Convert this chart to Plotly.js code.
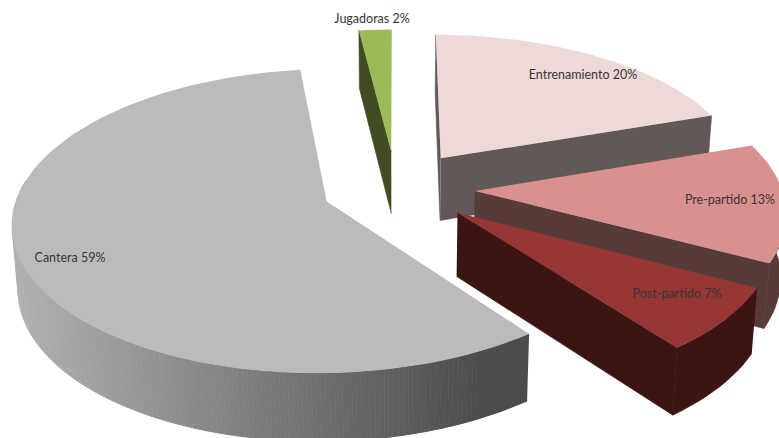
<!DOCTYPE html>
<html>
<head>
<meta charset="utf-8">
<script src="https://cdn.plot.ly/plotly-3.0.1.min.js"></script>
<style>html,body{margin:0;padding:0;background:#fff;}</style>
</head>
<body>
<div id="chart" style="width:779px;height:438px;"></div>
<script>
// Reparto por categoría, en sentido horario desde las 12
const categories = ["Entrenamiento", "Pre-partido", "Post-partido", "Cantera", "Jugadoras"];
const percents = [20, 13, 7, 59, 2];

// Colores de cada porción: cara superior y pared
const topColors = ["#eed9d9", "#d99190", "#953534", "#bbbbbb", "#9bbb59"];
const wallColors = ["#625856", "#563b39", "#3c1513", "#7a7a7a", "#414c23"];

// Posición de cada etiqueta en el lienzo
const labelX = [583, 730, 677, 70, 372];
const labelY = [76, 201, 295, 259, 20];

// Cámara del pastel inclinado
const cam = {vx: 396, vy: 188, A: 315, B: 150, k: 0.13, depth: 63, kd: 0.07, lean: 0.015};
const explode = [0.25, 0.25, 0.25, 0.235, 0.25];
const radius = 0.975;

// Caras visibles de cada porción: radial inicial, radial final y tramo de pared exterior en grados
const faces = [
  {start: true,  end: true,  arc: null},
  {start: false, end: true,  arc: [88, 120]},
  {start: false, end: true,  arc: [0, 360]},
  {start: false, end: false, arc: [0, 278]},
  {start: true,  end: false, arc: null}
];

const project = (X, Y, bottom) => {
  const w = 1 - cam.k * Y;
  let sx = cam.vx + cam.A * X / w;
  let sy = cam.vy + cam.B * Y / w;
  if (bottom) {
    sx += (cam.vx - sx) * cam.lean;
    sy += cam.depth / (1 - cam.kd * Y);
  }
  return [sx, sy];
};

const total = percents.reduce((a, b) => a + b, 0);
const rad = d => d * Math.PI / 180;
const traces = [];

const poly = (pts, color, width) => traces.push({
  type: "scatter", mode: "lines", x: pts.map(p => p[0]), y: pts.map(p => p[1]),
  fill: "toself", fillcolor: color, line: {color: color, width: width || 0},
  hoverinfo: "skip", showlegend: false
});

// Geometría de cada porción a partir de su valor
let acc = 0;
const slices = percents.map((v, i) => {
  const a0 = acc / total * 360;
  acc += v;
  const a1 = acc / total * 360;
  const mid = rad((a0 + a1) / 2);
  return {i, a0, a1, ox: explode[i] * Math.sin(mid), oy: -explode[i] * Math.cos(mid)};
});

const rim = (s, a) => [s.ox + radius * Math.sin(rad(a)), s.oy - radius * Math.cos(rad(a))];

const arcPoints = (s, from, to, stepDeg) => {
  const steps = Math.max(4, Math.round((to - from) / stepDeg));
  const pts = [];
  for (let n = 0; n <= steps; n++) pts.push(rim(s, from + (to - from) * n / steps));
  return pts;
};

const band = seg => seg.map(p => project(...p)).concat(seg.slice().reverse().map(p => project(...p, true)));

const grayAt = x => {
  const t = Math.min(1, Math.max(0, (x - 10) / 470));
  return Math.round(178 - t * (178 - 76));
};

const drawSlice = s => {
  const arc = arcPoints(s, s.a0, s.a1, 2);
  const apex = [s.ox, s.oy];
  const first = arc[0], last = arc[arc.length - 1];
  const wall = wallColors[s.i];
  const f = faces[s.i];

  if (f.start) poly([project(...apex), project(...first), project(...first, true), project(...apex, true)], wall, 0.6);
  if (f.end) poly([project(...apex), project(...last), project(...last, true), project(...apex, true)], wall, 0.6);

  // Pared exterior; la de Cantera lleva degradado horizontal, un tramo por nivel de gris
  if (f.arc) {
    const from = Math.max(s.a0, f.arc[0]), to = Math.min(s.a1, f.arc[1]);
    if (s.i === 3) {
      const seg = arcPoints(s, from, to, 0.25);
      let run = [seg[0]], level = grayAt(project(...seg[0])[0]);
      for (let n = 1; n < seg.length; n++) {
        run.push(seg[n]);
        const g = grayAt(project(...seg[n])[0]);
        if (g !== level || n === seg.length - 1) {
          poly(band(run), `rgb(${level},${level},${level})`, 1);
          run = [seg[n]];
          level = g;
        }
      }
    } else {
      poly(band(arcPoints(s, from, to, 2)), wall, 0.6);
    }
  }

  // Cara superior
  poly([project(...apex)].concat(arc.map(p => project(...p))), topColors[s.i]);
};

// De atrás hacia delante
[4, 0, 1, 2, 3].forEach(i => drawSlice(slices[i]));

traces.push({
  type: "scatter", mode: "text", x: labelX, y: labelY,
  text: categories.map((c, i) => `${c} ${percents[i]}%`),
  textposition: "middle center", cliponaxis: false,
  textfont: {family: "Lato, sans-serif", size: 12.5, color: "#3a3434"},
  hoverinfo: "skip", showlegend: false
});

Plotly.newPlot("chart", traces, {
  width: 779, height: 438, margin: {l: 0, r: 0, t: 0, b: 0},
  paper_bgcolor: "#ffffff", plot_bgcolor: "#ffffff", showlegend: false,
  xaxis: {range: [0, 779], visible: false, fixedrange: true},
  yaxis: {range: [438, 0], visible: false, fixedrange: true}
}, {displayModeBar: false, staticPlot: true});
</script>
</body>
</html>
